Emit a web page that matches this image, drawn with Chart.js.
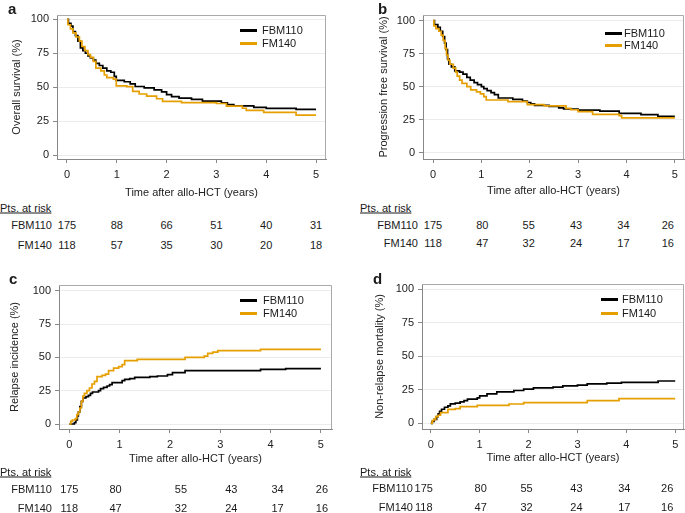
<!DOCTYPE html>
<html lang="en">
<head>
<meta charset="UTF-8">
<title>FBM110 vs FM140 - outcomes after allo-HCT</title>
<script src="https://cdn.jsdelivr.net/npm/chart.js"></script>
<style>
  body { margin: 0; background: #fff; font-family: "Liberation Sans", Arial, sans-serif; color: #1a1a1a; }
  #page { position: relative; width: 685px; height: 513px; overflow: hidden; }
  .panel { position: absolute; }
  .txt { position: absolute; font-size: 11px; line-height: 13px; white-space: nowrap; }
  .letter { position: absolute; font-size: 15px; font-weight: bold; line-height: 16px; }
  .legLine { position: absolute; height: 3px; width: 17px; }
</style>
</head>
<body>
<div id="page"></div>
<script>
  const xTicks = [0, 1, 2, 3, 4, 5];
  const yTicks = [0, 25, 50, 75, 100];
  const groups = ['FBM110', 'FM140'];
  const groupColors = ['#000000', '#E69F00'];
  const xTitle = 'Time after allo-HCT (years)';

  // a - overall survival
  const osTimeFBM = [0, 0.03, 0.08, 0.12, 0.17, 0.22, 0.27, 0.32, 0.37, 0.42, 0.47, 0.53, 0.58, 0.65, 0.72, 0.8, 0.88, 0.95, 0.99, 1.15, 1.27, 1.37, 1.55, 1.75, 1.9, 2.0, 2.1, 2.25, 2.5, 2.72, 3.1, 3.22, 3.35, 3.75, 4.0, 4.6, 5.0];
  const osFBM     = [100, 97, 95, 91, 88, 84, 79, 77, 75, 73, 71.5, 70, 67.5, 66, 64, 62, 61, 58, 55, 54, 52.5, 50.5, 49.5, 48, 46.5, 44.5, 43, 42, 41, 39.8, 38.5, 37.2, 36.2, 35.2, 34.4, 33.6, 33.6];
  const osTimeFM  = [0, 0.02, 0.07, 0.12, 0.18, 0.25, 0.3, 0.36, 0.42, 0.47, 0.53, 0.58, 0.68, 0.75, 0.8, 0.93, 0.99, 1.2, 1.32, 1.45, 1.6, 1.8, 1.92, 2.3, 3.0, 3.2, 3.52, 3.6, 3.95, 4.6, 5.0];
  const osFM      = [100, 96, 93, 90, 87, 84, 80, 77, 74, 72, 69, 64, 62, 59, 57, 56, 51, 50.4, 47, 45, 43.5, 41.5, 39.6, 38.6, 38, 36, 34.5, 33, 31.4, 29.5, 29.5];
  const osRiskFBM = [175, 88, 66, 51, 40, 31];
  const osRiskFM  = [118, 57, 35, 30, 20, 18];

  // b - progression free survival
  const pfsTimeFBM = [0, 0.03, 0.1, 0.15, 0.2, 0.24, 0.27, 0.3, 0.33, 0.38, 0.45, 0.55, 0.62, 0.7, 0.77, 0.85, 0.92, 1.0, 1.05, 1.12, 1.2, 1.27, 1.35, 1.65, 1.85, 1.95, 2.02, 2.1, 2.4, 2.6, 2.7, 3.0, 3.45, 3.85, 4.3, 4.65, 5.0];
  const pfsFBM     = [100, 97, 95, 92, 88, 83, 78, 71, 67, 65, 62, 61, 59.5, 57, 55, 53, 51.5, 50, 48.5, 47, 45.5, 44, 41.4, 40.4, 39, 38, 37, 35.9, 35, 34, 33.1, 32.3, 31.5, 29.8, 28.8, 27.5, 27.5];
  const pfsTimeFM  = [0, 0.02, 0.06, 0.12, 0.17, 0.21, 0.25, 0.28, 0.31, 0.35, 0.42, 0.47, 0.5, 0.55, 0.6, 0.7, 0.78, 0.9, 0.98, 1.05, 1.1, 1.55, 1.95, 2.3, 2.75, 2.85, 3.0, 3.3, 3.85, 3.9, 5.0];
  const pfsFM      = [100, 96, 94, 92, 89, 85, 79, 74, 70, 67, 64, 61, 58, 55, 52.5, 50, 47.5, 46, 44.5, 42.4, 39.9, 38.6, 36.4, 35.4, 33.6, 32.5, 31.1, 29, 28, 26.3, 26.3];
  const pfsRiskFBM = [175, 80, 55, 43, 34, 26];
  const pfsRiskFM  = [118, 47, 32, 24, 17, 16];

  // c - relapse incidence
  const riTimeFBM = [0, 0.1, 0.13, 0.16, 0.18, 0.21, 0.24, 0.27, 0.33, 0.38, 0.42, 0.46, 0.58, 0.62, 0.68, 0.75, 0.8, 0.85, 1.05, 1.1, 1.2, 1.3, 1.6, 1.75, 1.95, 2.05, 2.3, 3.8, 4.3, 5.0];
  const riFBM     = [0, 1, 3, 6, 9, 13, 17, 19.5, 20.5, 21.5, 23, 24, 25, 26.5, 27.5, 28.5, 29.5, 31, 32.5, 33.5, 34, 35, 35.5, 36, 37, 38.5, 40, 41, 41.5, 41.5];
  const riTimeFM  = [0, 0.03, 0.06, 0.12, 0.15, 0.18, 0.21, 0.24, 0.27, 0.3, 0.35, 0.4, 0.45, 0.5, 0.55, 0.65, 0.72, 0.78, 0.88, 0.98, 1.05, 1.1, 1.35, 2.3, 2.68, 2.75, 2.85, 2.95, 3.8, 5.0];
  const riFM      = [0, 2, 3, 4, 7, 9, 12, 17, 21, 23, 25, 27, 30, 32, 35.5, 36.5, 37.5, 40, 42, 43, 44.5, 47.5, 48.5, 50, 51, 53, 54, 55, 56, 56];
  const riRiskFBM = [175, 80, 55, 43, 34, 26];
  const riRiskFM  = [118, 47, 32, 24, 17, 16];

  // d - non-relapse mortality
  const nrmTimeFBM = [0, 0.03, 0.07, 0.12, 0.15, 0.18, 0.22, 0.28, 0.35, 0.4, 0.5, 0.6, 0.68, 0.75, 0.95, 1.0, 1.15, 1.35, 1.7, 1.9, 2.1, 2.5, 2.7, 3.0, 3.2, 3.6, 3.9, 4.65, 5.0];
  const nrmFBM     = [0, 1.5, 3, 5, 7, 9, 10.5, 12, 13, 14.5, 15, 16, 17, 18, 19, 20.5, 22, 23.5, 24.5, 25.5, 26.5, 27, 28, 28.5, 29.5, 30, 30.6, 31.6, 31.6];
  const nrmTimeFM  = [0, 0.03, 0.06, 0.1, 0.15, 0.2, 0.35, 0.5, 0.6, 0.95, 1.6, 1.9, 3.2, 3.85, 5.0];
  const nrmFM      = [0, 2, 3, 5, 6, 8, 10.4, 11, 12.4, 13.4, 14.4, 15.4, 16.9, 18.4, 18.4];
  const nrmRiskFBM = [175, 80, 55, 43, 34, 26];
  const nrmRiskFM  = [118, 47, 32, 24, 17, 16];

  const FONT = '"Liberation Sans", Arial, sans-serif';

  // page layout of each panel (px)
  const panels = [
    { letter: 'a', yTitle: 'Overall survival (%)', times: [osTimeFBM, osTimeFM], values: [osFBM, osFM], risk: [osRiskFBM, osRiskFM],
      box: [0, 0, 335, 200], area: [57, 326, 15, 159], xr: [-0.2, 5.2], yr: [-2.9, 103.2], yPad: 10, xPad: 0,
      leg: [240, 262, 30, 43], let: [8, 1], rTitle: [0, 208], rRows: [225, 245], rLab: 52, nudge: [0, 0, 0, 0, 0, 0] },
    { letter: 'b', yTitle: 'Progression free survival (%)', times: [pfsTimeFBM, pfsTimeFM], values: [pfsFBM, pfsFM], risk: [pfsRiskFBM, pfsRiskFM],
      box: [345, 0, 340, 200], area: [423, 684, 15, 159], xr: [-0.207, 5.19], yr: [-4.8, 104.3], yPad: 32, xPad: 2,
      leg: [605, 624, 33, 45], let: [378, 1], rTitle: [360, 208], rRows: [225, 243], rLab: 418, nudge: [0, 1, -1, -2, -3, -7] },
    { letter: 'c', yTitle: 'Relapse incidence (%)', times: [riTimeFBM, riTimeFM], values: [riFBM, riFM], risk: [riRiskFBM, riRiskFM],
      box: [0, 270, 335, 200], area: [59, 332, 285, 429], xr: [-0.205, 5.22], yr: [-3.75, 104.3], yPad: 8, xPad: 4,
      leg: [240, 263, 300, 313], let: [9, 271], rTitle: [0, 472], rRows: [489, 508], rLab: 52, nudge: [0, -4, 11, 11, 7, 1] },
    { letter: 'd', yTitle: 'Non-relapse mortality (%)', times: [nrmTimeFBM, nrmTimeFM], values: [nrmFBM, nrmFM], risk: [nrmRiskFBM, nrmRiskFM],
      box: [345, 270, 340, 200], area: [422, 684, 284, 429], xr: [-0.18, 5.18], yr: [-4.25, 104], yPad: 28, xPad: 5,
      leg: [601, 622, 299, 313], let: [373, 271], rTitle: [360, 472], rRows: [488, 507], rLab: 413, nudge: [-7, 1, -2, -1, -2, -8] }
  ];

  const page = document.getElementById('page');

  function addText(text, left, top, cls, transform) {
    const el = document.createElement('div');
    el.className = cls;
    el.textContent = text;
    el.style.left = left + 'px';
    el.style.top = top + 'px';
    if (transform) el.style.transform = transform;
    page.appendChild(el);
    return el;
  }

  // top and right border of the panel box
  const frame = {
    id: 'frame',
    beforeDatasetsDraw(chart) {
      const { ctx, chartArea: a } = chart;
      ctx.save();
      ctx.strokeStyle = '#aaaaaa';
      ctx.lineWidth = 1;
      ctx.beginPath();
      ctx.moveTo(a.left, a.top + 0.5);
      ctx.lineTo(a.right - 0.5, a.top + 0.5);
      ctx.lineTo(a.right - 0.5, a.bottom);
      ctx.stroke();
      ctx.restore();
    }
  };

  panels.forEach(p => {
    const [bl, bt, bw, bh] = p.box;
    const [al, ar, at, ab] = p.area;

    const wrap = document.createElement('div');
    wrap.className = 'panel';
    wrap.style.left = bl + 'px';
    wrap.style.top = bt + 'px';
    wrap.style.width = bw + 'px';
    wrap.style.height = bh + 'px';
    const canvas = document.createElement('canvas');
    wrap.appendChild(canvas);
    page.appendChild(wrap);

    const chart = new Chart(canvas, {
      type: 'line',
      data: {
        datasets: groups.map((g, i) => ({
          label: g,
          data: p.times[i].map((t, k) => ({ x: t, y: p.values[i][k] })),
          borderColor: groupColors[i],
          borderWidth: 1.7,
          pointRadius: 0,
          stepped: true,
          fill: false
        })).reverse()
      },
      options: {
        responsive: true,
        maintainAspectRatio: false,
        animation: false,
        layout: { padding: { left: 0, top: at - bt, right: bl + bw - ar, bottom: 0 } },
        plugins: { legend: { display: false }, tooltip: { enabled: false } },
        scales: {
          x: {
            type: 'linear', min: p.xr[0], max: p.xr[1],
            afterBuildTicks: s => { s.ticks = xTicks.map(v => ({ value: v })); },
            afterFit: s => { s.height = bt + bh - ab; },
            grid: { drawOnChartArea: false, tickLength: 4, tickColor: '#888' },
            border: { color: '#888' },
            ticks: { color: '#222', font: { family: FONT, size: 11 }, padding: 5, maxRotation: 0, autoSkip: false },
            title: { display: true, text: xTitle, color: '#222', font: { family: FONT, size: 11 }, padding: { top: 0, bottom: p.xPad } }
          },
          y: {
            min: p.yr[0], max: p.yr[1],
            afterBuildTicks: s => { s.ticks = yTicks.map(v => ({ value: v })); },
            afterFit: s => { s.width = al - bl; },
            grid: { color: '#ececec', tickLength: 4, tickColor: '#888' },
            border: { color: '#888' },
            ticks: { color: '#222', font: { family: FONT, size: 11 }, padding: 4 },
            title: { display: true, text: p.yTitle, color: '#222', font: { family: FONT, size: 11 }, padding: { top: p.yPad, bottom: 0 } }
          }
        }
      },
      plugins: [frame]
    });

    // panel letter
    addText(p.letter, p.let[0], p.let[1], 'letter');

    // legend
    groups.forEach((g, i) => {
      const y = p.leg[2 + i];
      const line = document.createElement('div');
      line.className = 'legLine';
      line.style.left = p.leg[0] + 'px';
      line.style.top = (y - 1.5) + 'px';
      line.style.background = groupColors[i];
      page.appendChild(line);
      addText(g, p.leg[1], y, 'txt', 'translateY(-50%)');
    });

    // patients at risk table
    const t = addText('Pts. at risk', p.rTitle[0], p.rTitle[1], 'txt', 'translateY(-50%)');
    t.style.textDecoration = 'underline';
    const xs = chart.scales.x;
    groups.forEach((g, i) => {
      const y = p.rRows[i];
      addText(g, p.rLab, y, 'txt', 'translate(-100%, -50%)');
      p.risk[i].forEach((n, k) => {
        const x = bl + xs.getPixelForValue(xTicks[k]) + p.nudge[k];
        addText(String(n), x, y, 'txt', 'translate(-50%, -50%)');
      });
    });
  });
</script>
</body>
</html>
